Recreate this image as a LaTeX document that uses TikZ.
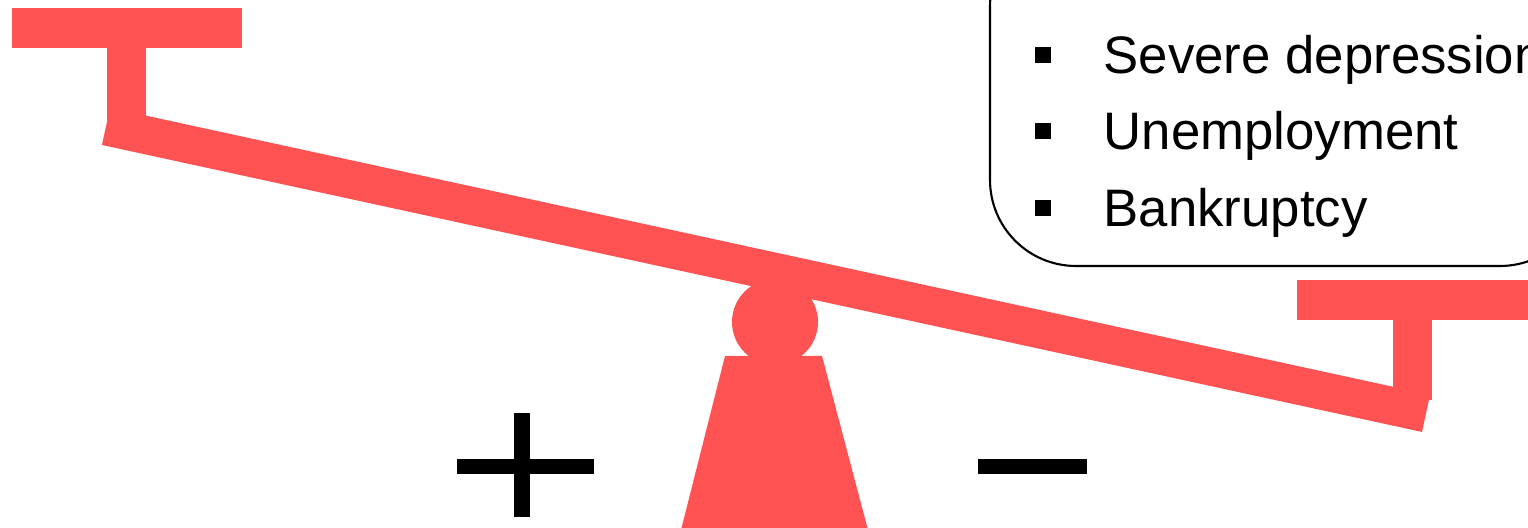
\documentclass[tikz,border=0pt]{standalone}
\usepackage{fontspec}
\setmainfont{Liberation Sans}
\usetikzlibrary{positioning}
\definecolor{seesawred}{RGB}{255,82,82}
\tikzstyle{seesaw} = [fill=seesawred, draw=none]
\tikzstyle{beam} = [draw=seesawred, line width=0.38cm, line cap=butt]
\tikzstyle{bulletbox} = [rectangle, fill=black, inner sep=0pt, minimum size=0.16cm]
\tikzstyle{itemtext} = [anchor=base west, inner sep=0pt, font=\fontsize{15}{18}\selectfont]
\tikzstyle{sign} = [fill=black, draw=none]

\begin{document}
\begin{tikzpicture}[x=0.01cm, y=-0.01cm]
    \useasboundingbox (0,0) rectangle (1528,528);
    \begin{scope}
    \clip (0,0) rectangle (1528,528);
    % effects box
    \draw[black, line width=0.6pt, rounded corners=0.86cm] (990,-80) rectangle (1586,266);
    % seesaw
    \fill[seesaw] (12,8) rectangle (242,48);
    \fill[seesaw] (107,40) rectangle (146,120);
    \fill[seesaw] (1297,280) rectangle (1540,320);
    \fill[seesaw] (1393,315) rectangle (1432,400);
    \fill[seesaw] (775,322) circle (43);
    \fill[seesaw] (725,356) -- (822,356) -- (868,530) -- (681,530) -- cycle;
    \draw[beam] (106,126.4) -- (1426,413.4);
    % plus and minus
    \fill[sign] (457,459) rectangle (594,474);
    \fill[sign] (514,413) rectangle (530,517);
    \fill[sign] (978,459) rectangle (1087,474);
    \end{scope}
    \node[itemtext] (t1) at (1103,74) {Severe depression};
    \node[itemtext] (t2) at (1103,150) {Unemployment};
    \node[itemtext] (t3) at (1103,227) {Bankruptcy};
    \node[bulletbox] (b1) at (1042.5,55) {};
    \node[bulletbox] (b2) at (1042.5,131) {};
    \node[bulletbox] (b3) at (1042.5,208) {};
  \end{tikzpicture}
\end{document}
